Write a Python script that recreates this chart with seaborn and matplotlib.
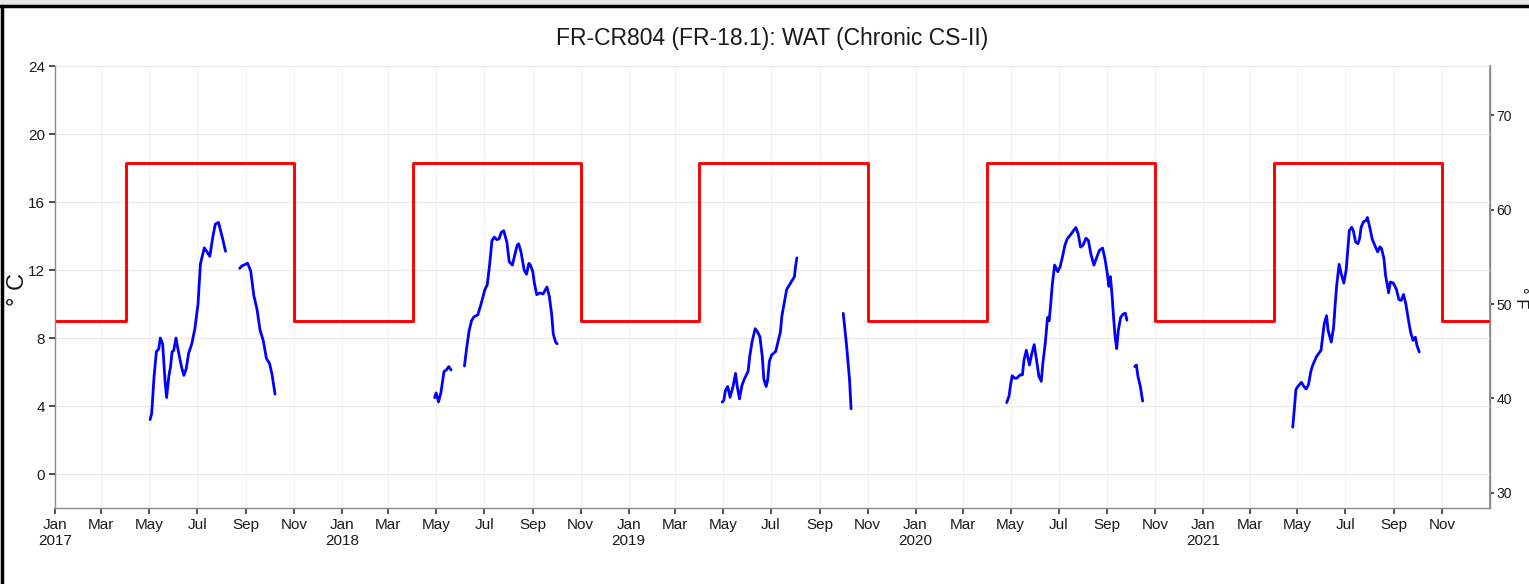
import pandas as pd
import matplotlib
matplotlib.use("Agg")
import matplotlib.pyplot as plt
from matplotlib.lines import Line2D
from matplotlib.patches import Rectangle
import seaborn as sns

# criteria (red step line), deg C
crit_years = [2017, 2018, 2019, 2020, 2021]
crit_summer = 18.3   # Apr 1 - Oct 31
crit_winter = 9.0    # rest of year

d2017a = ["2017-05-02", "2017-05-04", "2017-05-07", "2017-05-10", "2017-05-13", "2017-05-15",
          "2017-05-18", "2017-05-21", "2017-05-23", "2017-05-26", "2017-05-28", "2017-05-30",
          "2017-06-01", "2017-06-04", "2017-06-06", "2017-06-11", "2017-06-14", "2017-06-17",
          "2017-06-20", "2017-06-24", "2017-06-28", "2017-07-02", "2017-07-05", "2017-07-10",
          "2017-07-13", "2017-07-17", "2017-07-21", "2017-07-24", "2017-07-28", "2017-08-02",
          "2017-08-06"]
t2017a = [3.2, 3.55, 5.7, 7.2, 7.35, 8.0, 7.65, 5.5, 4.5, 5.8, 6.3, 7.2, 7.25, 8.0, 7.45, 6.3,
          5.8, 6.2, 7.1, 7.65, 8.55, 10.0, 12.35, 13.3, 13.1, 12.8, 14.0, 14.7, 14.8, 13.9, 13.1]

d2017b = ["2017-08-24", "2017-08-27", "2017-08-30", "2017-09-03", "2017-09-07", "2017-09-11",
          "2017-09-15", "2017-09-19", "2017-09-23", "2017-09-27", "2017-10-01", "2017-10-04",
          "2017-10-08"]
t2017b = [12.1, 12.25, 12.3, 12.4, 11.95, 10.5, 9.7, 8.45, 7.85, 6.8, 6.5, 5.9, 4.7]

d2018a = ["2018-04-29", "2018-05-01", "2018-05-04", "2018-05-07", "2018-05-11", "2018-05-14",
          "2018-05-17", "2018-05-20"]
t2018a = [4.49, 4.77, 4.24, 4.77, 6.03, 6.12, 6.32, 6.12]

d2018b = ["2018-06-06", "2018-06-09", "2018-06-12", "2018-06-15", "2018-06-18", "2018-06-23",
          "2018-06-27", "2018-07-02", "2018-07-05", "2018-07-08", "2018-07-11", "2018-07-14",
          "2018-07-17", "2018-07-20", "2018-07-23", "2018-07-26", "2018-07-30", "2018-08-02",
          "2018-08-06", "2018-08-09", "2018-08-12", "2018-08-14", "2018-08-17", "2018-08-21",
          "2018-08-24", "2018-08-27", "2018-08-29", "2018-09-01", "2018-09-03", "2018-09-06",
          "2018-09-10", "2018-09-14", "2018-09-19", "2018-09-22", "2018-09-25", "2018-09-27",
          "2018-09-30", "2018-10-02"]
t2018b = [6.35, 7.47, 8.44, 9.01, 9.24, 9.36, 9.98, 10.84, 11.13, 12.29, 13.73, 13.93, 13.79,
          13.83, 14.22, 14.31, 13.64, 12.48, 12.29, 12.87, 13.45, 13.54, 13.06, 12.0, 11.75,
          12.39, 12.29, 11.9, 11.23, 10.55, 10.65, 10.59, 11.0, 10.46, 9.4, 8.24, 7.76, 7.66]

d2019a = ["2019-04-30", "2019-05-02", "2019-05-04", "2019-05-07", "2019-05-10", "2019-05-14",
          "2019-05-17", "2019-05-19", "2019-05-22", "2019-05-25", "2019-05-28", "2019-06-02",
          "2019-06-04", "2019-06-07", "2019-06-11", "2019-06-14", "2019-06-17", "2019-06-20",
          "2019-06-22", "2019-06-25", "2019-06-27", "2019-06-29", "2019-07-02", "2019-07-07",
          "2019-07-10", "2019-07-13", "2019-07-15", "2019-07-18", "2019-07-21", "2019-07-26",
          "2019-07-31", "2019-08-01", "2019-08-03"]
t2019a = [4.23, 4.32, 4.9, 5.15, 4.51, 5.19, 5.92, 5.19, 4.42, 5.19, 5.57, 6.05, 6.91, 7.78,
          8.55, 8.35, 8.07, 6.91, 5.57, 5.15, 5.57, 6.63, 7.01, 7.2, 7.78, 8.35, 9.31, 10.08,
          10.85, 11.23, 11.62, 12.1, 12.71]

d2019b = ["2019-10-01", "2019-10-05", "2019-10-09", "2019-10-11"]
t2019b = [9.45, 7.68, 5.57, 3.84]

d2020a = ["2020-04-26", "2020-04-29", "2020-05-01", "2020-05-03", "2020-05-06", "2020-05-09",
          "2020-05-13", "2020-05-16", "2020-05-18", "2020-05-21", "2020-05-25", "2020-05-28",
          "2020-05-31", "2020-06-03", "2020-06-06", "2020-06-09", "2020-06-11", "2020-06-14",
          "2020-06-17", "2020-06-19", "2020-06-21", "2020-06-23", "2020-06-26", "2020-06-30",
          "2020-07-03", "2020-07-06", "2020-07-09", "2020-07-12", "2020-07-17", "2020-07-20",
          "2020-07-23", "2020-07-26", "2020-07-29", "2020-08-01", "2020-08-05", "2020-08-08",
          "2020-08-11", "2020-08-15", "2020-08-18", "2020-08-22", "2020-08-26", "2020-08-29",
          "2020-09-01", "2020-09-03", "2020-09-05", "2020-09-07", "2020-09-09", "2020-09-11",
          "2020-09-13", "2020-09-15", "2020-09-18", "2020-09-21", "2020-09-24", "2020-09-26"]
t2020a = [4.2, 4.58, 5.26, 5.78, 5.64, 5.64, 5.83, 5.83, 6.7, 7.28, 6.41, 7.09, 7.61, 6.7,
          5.74, 5.45, 6.51, 7.66, 9.21, 9.01, 9.98, 11.13, 12.29, 11.9, 12.19, 12.77, 13.45,
          13.83, 14.12, 14.31, 14.5, 14.12, 13.35, 13.45, 13.87, 13.73, 12.96, 12.29, 12.67,
          13.16, 13.29, 12.67, 11.81, 11.04, 11.61, 10.55, 9.21, 8.05, 7.38, 8.44, 9.21, 9.4,
          9.46, 9.05]

d2020b = ["2020-10-06", "2020-10-08", "2020-10-10", "2020-10-13", "2020-10-16"]
t2020b = [6.32, 6.41, 5.74, 5.16, 4.29]

d2021 = ["2021-04-25", "2021-04-27", "2021-04-29", "2021-05-01", "2021-05-06", "2021-05-09",
         "2021-05-12", "2021-05-15", "2021-05-18", "2021-05-20", "2021-05-25", "2021-05-28",
         "2021-05-31", "2021-06-02", "2021-06-04", "2021-06-07", "2021-06-09", "2021-06-13",
         "2021-06-16", "2021-06-18", "2021-06-20", "2021-06-23", "2021-06-26", "2021-06-29",
         "2021-07-02", "2021-07-04", "2021-07-06", "2021-07-09", "2021-07-11", "2021-07-14",
         "2021-07-17", "2021-07-19", "2021-07-21", "2021-07-24", "2021-07-27", "2021-07-29",
         "2021-08-01", "2021-08-04", "2021-08-07", "2021-08-11", "2021-08-14", "2021-08-16",
         "2021-08-19", "2021-08-21", "2021-08-25", "2021-08-27", "2021-08-31", "2021-09-04",
         "2021-09-07", "2021-09-10", "2021-09-13", "2021-09-16", "2021-09-19", "2021-09-22",
         "2021-09-25", "2021-09-28", "2021-09-30", "2021-10-03"]
t2021 = [2.75, 3.81, 4.96, 5.12, 5.39, 5.16, 5.0, 5.25, 6.03, 6.35, 6.89, 7.09, 7.28, 8.05,
         8.82, 9.31, 8.44, 7.76, 8.63, 9.98, 11.14, 12.33, 11.72, 11.23, 12.01, 13.16, 14.32,
         14.51, 14.32, 13.65, 13.55, 13.84, 14.51, 14.84, 14.9, 15.09, 14.51, 13.84, 13.49,
         13.07, 13.36, 13.26, 12.68, 11.72, 10.66, 11.29, 11.23, 10.85, 10.27, 10.21, 10.56,
         9.98, 9.11, 8.34, 7.86, 8.05, 7.57, 7.18]

title = "FR-CR804 (FR-18.1): WAT (Chronic CS-II)"

# build tables
pieces = [(d2017a, t2017a), (d2017b, t2017b), (d2018a, t2018a), (d2018b, t2018b),
          (d2019a, t2019a), (d2019b, t2019b), (d2020a, t2020a), (d2020b, t2020b),
          (d2021, t2021)]
frames = []
for i, (d, t) in enumerate(pieces):
    frames.append(pd.DataFrame({"date": pd.to_datetime(d), "temp": t, "seg": i}))
wat = pd.concat(frames, ignore_index=True)

cd, cv = [pd.Timestamp("2017-01-01")], [crit_winter]
for y in crit_years:
    cd += [pd.Timestamp(f"{y}-04-01"), pd.Timestamp(f"{y}-11-01")]
    cv += [crit_summer, crit_winter]
cd.append(pd.Timestamp("2022-01-01"))
cv.append(crit_winter)
crit = pd.DataFrame({"date": cd, "temp": cv})

sns.set_theme(style="white")
plt.rcParams["font.family"] = ["Liberation Sans", "DejaVu Sans"]

fig = plt.figure(figsize=(15.29, 5.84), dpi=100)
ax = fig.add_axes([55 / 1529, 1 - 508 / 584, (1490 - 55) / 1529, (508 - 66) / 584])

sns.lineplot(data=crit, x="date", y="temp", ax=ax, color="#ff0000", lw=2.1,
             drawstyle="steps-post", estimator=None)
sns.lineplot(data=wat, x="date", y="temp", units="seg", estimator=None, ax=ax,
             color="#0000ff", lw=2.0)

ax.set_xlim(pd.Timestamp("2017-01-01"), pd.Timestamp("2022-01-01"))
ax.set_ylim(-2, 24)
ax.set_yticks(range(0, 25, 4))

ticks = pd.date_range("2017-01-01", "2021-11-01", freq="2MS")
labels = [t.strftime("%b") + ("\n" + str(t.year) if t.month == 1 else "") for t in ticks]
ax.set_xticks(ticks)
ax.set_xticklabels(labels, ha="center")

ax.grid(axis="y", color="#ebebeb", lw=0.9)
ax.grid(axis="x", color="#f4f4f4", lw=0.9)
ax.spines["top"].set_visible(False)
for s in ["left", "bottom", "right"]:
    ax.spines[s].set_color("#8a8a8a")
    ax.spines[s].set_linewidth(1.0)
ax.tick_params(axis="both", which="major", length=4, width=1.2, color="#333333",
               labelsize=11, labelcolor="#1a1a1a", pad=3, left=True, bottom=True)

ax.set_xlabel("")
ax.set_ylabel("")

sec = ax.secondary_yaxis("right", functions=(lambda c: c * 9 / 5 + 32,
                                             lambda f: (f - 32) * 5 / 9))
sec.set_yticks([30, 40, 50, 60, 70])
sec.spines["right"].set_color("#8a8a8a")
sec.tick_params(length=3, width=1.2, color="#333333", labelsize=10,
                labelcolor="#1a1a1a", pad=1.5)

# axis titles placed by hand so they stay inside the canvas
fig.text(18 / 1529, 1 - 290 / 584, "° C", rotation=90, fontsize=17,
         ha="center", va="center", color="#1a1a1a")
fig.text(1521 / 1529, 1 - 298 / 584, "° F", rotation=270, fontsize=12,
         ha="center", va="center", color="#1a1a1a")

fig.suptitle(title, x=0.505, y=1 - 38 / 584, va="center", fontsize=16.5, color="#1a1a1a")

# outer frame of the original screenshot
fig.patches.append(Rectangle((0, 1 - 4 / 584), 1, 4 / 584, transform=fig.transFigure,
                             color="#e6e6e6", zorder=0))
fig.lines.append(Line2D([0, 1], [1 - 6 / 584] * 2, transform=fig.transFigure,
                        color="black", lw=2.5))
fig.lines.append(Line2D([2 / 1529] * 2, [0, 1 - 6 / 584], transform=fig.transFigure,
                        color="black", lw=2.5))

fig.savefig("out.png", dpi=100)
